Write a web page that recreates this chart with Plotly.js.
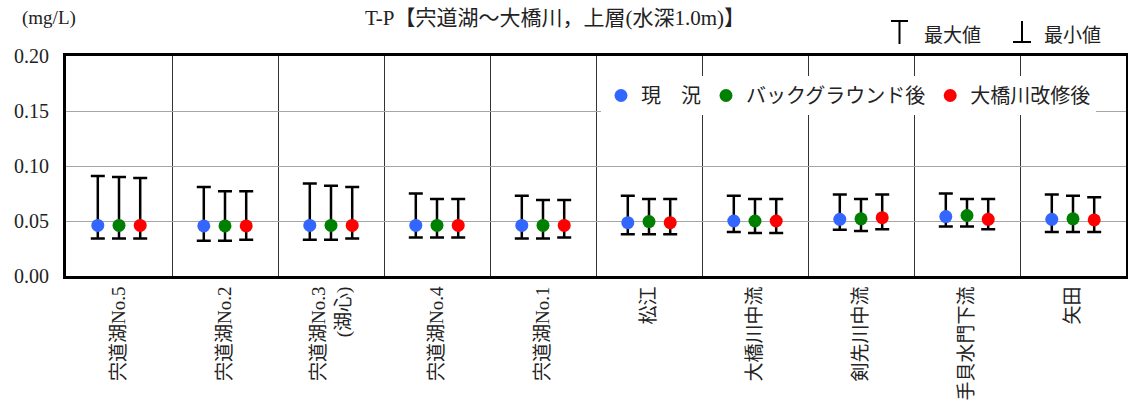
<!DOCTYPE html>
<html>
<head>
<meta charset="utf-8">
<script src="https://cdn.plot.ly/plotly-3.0.1.min.js"></script>
<style>html,body{margin:0;padding:0;background:#fff;}#chart{width:1128px;height:405px;}</style>
</head>
<body>
<div id="chart"></div>
<script>
// ---- data ----
const categories = ["宍道湖No.5","宍道湖No.2","宍道湖No.3<br>(湖心)","宍道湖No.4","宍道湖No.1","松江","大橋川中流","剣先川中流","手貝水門下流","矢田"];
const seriesNames = ["現　況","バックグラウンド後","大橋川改修後"];
const meanNow   = [0.046, 0.0455, 0.046, 0.046, 0.046, 0.0485, 0.050, 0.0515, 0.054, 0.0515];
const maxNow    = [0.091, 0.081, 0.084, 0.075, 0.073, 0.073, 0.073, 0.074, 0.075, 0.074];
const minNow    = [0.034, 0.032, 0.033, 0.035, 0.034, 0.038, 0.040, 0.042, 0.045, 0.040];
const meanBG    = [0.046, 0.0455, 0.046, 0.046, 0.046, 0.0495, 0.050, 0.052, 0.055, 0.052];
const maxBG     = [0.090, 0.077, 0.082, 0.070, 0.069, 0.070, 0.070, 0.070, 0.070, 0.073];
const minBG     = [0.034, 0.032, 0.033, 0.035, 0.034, 0.038, 0.039, 0.041, 0.045, 0.040];
const meanAfter = [0.046, 0.0455, 0.046, 0.046, 0.046, 0.0485, 0.050, 0.053, 0.0515, 0.051];
const maxAfter  = [0.089, 0.077, 0.081, 0.070, 0.069, 0.070, 0.070, 0.074, 0.070, 0.0715];
const minAfter  = [0.034, 0.033, 0.034, 0.035, 0.035, 0.038, 0.039, 0.0425, 0.0425, 0.040];
const yTickVals = [0, 0.05, 0.10, 0.15, 0.20];

// ---- styling ----
const colors = ["#3366ff", "#008000", "#ff0000"];
const L = 66, R = 1126, T = 56, B = 276;
const px2x = p => (p - L) / (R - L);
const px2y = p => (B - p) / (B - T);
const serifJP = "Liberation Serif, Noto Sans CJK JP, serif";
const sansJP = "Noto Sans CJK JP, sans-serif";

function mk(mean, mx, mn, i) {
  return {
    type: "scatter", mode: "markers", x: categories, y: mean,
    name: seriesNames[i], offsetgroup: String(i),
    marker: {color: colors[i], size: 13},
    error_y: {type: "data", symmetric: false,
      array: mx.map((v, k) => v - mean[k]),
      arrayminus: mn.map((v, k) => mean[k] - v),
      color: "#000", thickness: 2.5, width: 7},
    hoverinfo: "x+y"
  };
}
const data = [mk(meanNow, maxNow, minNow, 0), mk(meanBG, maxBG, minBG, 1), mk(meanAfter, maxAfter, minAfter, 2)];

const lineStyle = {color: "#000", width: 2};
const layout = {
  width: 1128, height: 405,
  margin: {l: L, r: 1128 - R, t: T, b: 405 - B},
  paper_bgcolor: "#fff", plot_bgcolor: "#fff",
  scattermode: "group", scattergap: 0.4,
  showlegend: true,
  legend: {orientation: "h", x: px2x(601), y: px2y(76), xanchor: "left", yanchor: "top",
    bgcolor: "#fff", borderwidth: 0, font: {family: sansJP, size: 20, color: "#222"},
    itemclick: false, tracegroupgap: 0},
  title: {text: "T-P【宍道湖～大橋川，上層(水深1.0m)】", xref: "container", yref: "container",
    x: 555 / 1128, y: 1 - 18 / 405, xanchor: "center", yanchor: "middle",
    font: {family: serifJP, size: 21, color: "#222"}},
  xaxis: {type: "category", tickson: "boundaries", showgrid: true, gridcolor: "#333", gridwidth: 1,
    ticks: "", tickangle: -90, tickfont: {family: serifJP, size: 19, color: "#222"},
    showline: true, linecolor: "#000", linewidth: 3, mirror: true, fixedrange: true},
  yaxis: {range: [0, 0.2], tickvals: yTickVals, tickformat: ".2f", showgrid: true, gridcolor: "#a6a6a6",
    gridwidth: 1, zeroline: false, ticks: "", ticklabelstandoff: 10,
    tickfont: {family: serifJP, size: 20, color: "#222"},
    showline: true, linecolor: "#000", linewidth: 3, mirror: true, fixedrange: true},
  annotations: [
    {text: "(mg/L)", xref: "paper", yref: "paper", x: px2x(20), y: px2y(18), xanchor: "left", yanchor: "middle",
      showarrow: false, font: {family: serifJP, size: 19, color: "#222"}},
    {text: "最大値", xref: "paper", yref: "paper", x: px2x(922), y: px2y(33), xanchor: "left", yanchor: "middle",
      showarrow: false, font: {family: sansJP, size: 19, color: "#222"}},
    {text: "最小値", xref: "paper", yref: "paper", x: px2x(1042), y: px2y(33), xanchor: "left", yanchor: "middle",
      showarrow: false, font: {family: sansJP, size: 19, color: "#222"}}
  ],
  shapes: [
    {type: "line", xref: "paper", yref: "paper", x0: px2x(891), x1: px2x(908), y0: px2y(21), y1: px2y(21), line: lineStyle},
    {type: "line", xref: "paper", yref: "paper", x0: px2x(899.5), x1: px2x(899.5), y0: px2y(21), y1: px2y(44), line: lineStyle},
    {type: "line", xref: "paper", yref: "paper", x0: px2x(1013), x1: px2x(1031), y0: px2y(42), y1: px2y(42), line: lineStyle},
    {type: "line", xref: "paper", yref: "paper", x0: px2x(1022), x1: px2x(1022), y0: px2y(21), y1: px2y(42), line: lineStyle}
  ]
};
Plotly.newPlot("chart", data, layout, {displayModeBar: false, staticPlot: true});
</script>
</body>
</html>
